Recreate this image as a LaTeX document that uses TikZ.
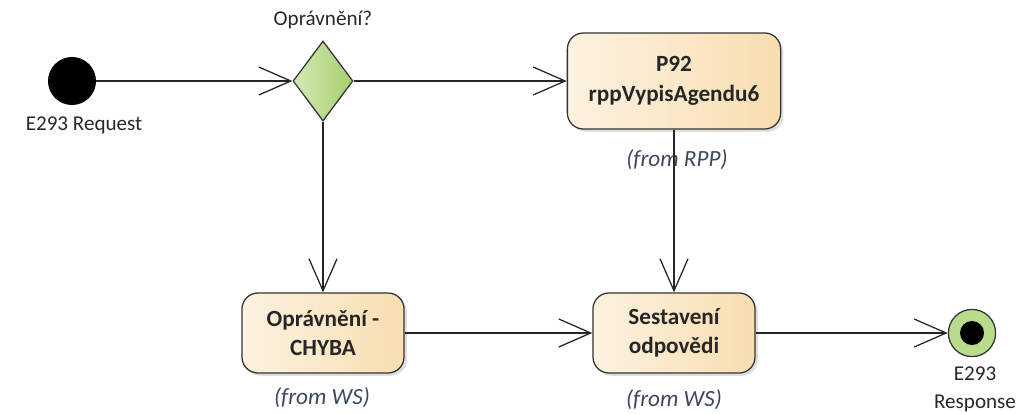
\documentclass[tikz,border=0pt]{standalone}
\usepackage{fontspec}
\setmainfont{Carlito}
\usepackage{tikz}
\usetikzlibrary{arrows.meta}
\usetikzlibrary{positioning, shapes.geometric, shadows}
\definecolor{actionleft}{RGB}{252,242,224}
\definecolor{actionright}{RGB}{248,222,176}
\definecolor{decleft}{RGB}{214,234,180}
\definecolor{decright}{RGB}{164,206,110}
\definecolor{finalfill}{RGB}{184,220,140}
\definecolor{fromtext}{RGB}{62,72,92}
\definecolor{labeltext}{RGB}{40,40,40}
\tikzset{
action/.style = { rectangle, draw = black!80, line width = 0.9pt, rounded corners = 0.4cm, left color = actionleft, right color = actionright, align = center, font = \fontsize{16.5}{21}\selectfont\bfseries, text = black!85, drop shadow = {opacity = 0.25, shadow xshift = 2pt, shadow yshift = -2pt} },
decision/.style = { diamond, draw = black!80, line width = 0.9pt, left color = decleft, right color = decright, inner sep = 0pt, minimum width = 1.5cm, minimum height = 2cm },
initial/.style = { circle, fill = black, minimum size = 1.2cm, inner sep = 0pt },
final/.style = { circle, draw = black!80, line width = 0.9pt, fill = finalfill, minimum size = 1.18cm, inner sep = 0pt },
final dot/.style = { circle, fill = black, minimum size = 0.6cm, inner sep = 0pt },
from label/.style = { font = \fontsize{16.5}{18}\selectfont\itshape, text = fromtext },
elem label/.style = { font = \fontsize{15}{17}\selectfont, text = labeltext, align = center },
flow/.style = { draw = black!85, line width = 0.9pt, -{Straight Barb[length = 0.8cm, width = 0.7cm, line width = 0.9pt]} },
}

\begin{document}
\begin{tikzpicture}[x = 0.025cm, y = -0.025cm]
    \useasboundingbox (0, 0) rectangle (1019, 414);
    % nodes
    \node[initial] (start) at (72, 81) {};
    \node[elem label] (start label) at (84, 125) {E293 Request};
    \node[decision] (check) at (323, 81) {};
    \node[elem label] (check label) at (323, 20) {Oprávnění?};
    \node[action, minimum width = 5.33cm, minimum height = 2.4cm] (p92) at (674, 81) {P92\\rppVypisAgendu6};
    \node[from label] (p92 from) at (677, 160) {(from RPP)};
    \node[action, minimum width = 4.05cm, minimum height = 2cm] (chyba) at (323, 333) {Oprávnění -\\CHYBA};
    \node[from label] (chyba from) at (322, 398) {(from WS)};
    \node[action, minimum width = 4.05cm, minimum height = 2cm] (sest) at (674, 333) {Sestavení\\odpovědi};
    \node[from label] (sest from) at (674, 400) {(from WS)};
    \node[final] (end) at (972, 333) {};
    \node[final dot] (end dot) at (end) {};
    \node[elem label, font = \fontsize{15}{20}\selectfont] (end label) at (975, 389) {E293\\Response};
    % flows
    \draw[flow] (start) -- (check);
    \draw[flow] (check) -- (p92);
    \draw[flow] (check.south) -- (chyba.north);
    \draw[flow] (p92.south) -- (sest.north);
    \draw[flow] (chyba) -- (sest);
    \draw[flow] (sest) -- (end);
\end{tikzpicture}
\end{document}
